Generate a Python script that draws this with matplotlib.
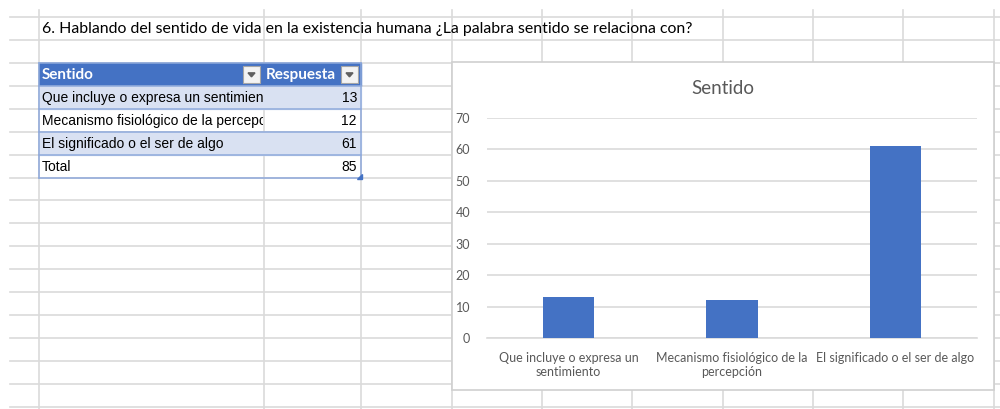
import matplotlib
matplotlib.use("Agg")
import matplotlib.pyplot as plt
from matplotlib.patches import Rectangle, Polygon

# data
question = "6. Hablando del sentido de vida en la existencia humana ¿La palabra sentido se relaciona con?"
col_headers = ["Sentido", "Respuesta"]
categories = ["Que incluye o expresa un sentimiento",
              "Mecanismo fisiológico de la percepción",
              "El significado o el ser de algo"]
respuestas = [13, 12, 61]
total_label = "Total"
total_value = 85  # as shown in the sheet
axis_labels = ["Que incluye o expresa un\nsentimiento",
               "Mecanismo fisiológico de la\npercepción",
               "El significado o el ser de algo"]
chart_title = "Sentido"
y_ticks = [0, 10, 20, 30, 40, 50, 60, 70]

W, H = 1000, 409
GRID = "#DADADA"
BLUE = "#4472C4"
LIGHT = "#D9E1F2"
EDGE = "#8EA9DB"
GREY_TXT = "#595959"

fig = plt.figure(figsize=(W / 100, H / 100), dpi=100)
bg = fig.add_axes([0, 0, 1, 1])
bg.set_xlim(0, W)
bg.set_ylim(H, 0)
bg.axis("off")

# spreadsheet cell grid
col_x = [38.5, 263.5, 361, 452, 542, 632, 723, 813, 903, 994]
row_y = [17 + 22.93 * i for i in range(18)]
for x in col_x:
    bg.plot([x, x], [10, H], color=GRID, lw=1.2, zorder=1)
for y in row_y:
    bg.plot([10, W], [y, y], color=GRID, lw=1.2, zorder=1)

bg.text(42, 29, question, fontsize=11.4, family="Lato", va="center",
        color="#000000", zorder=3)

# table ------------------------------------------------------------
tl, tm, tr = 39, 263.5, 361
top = row_y[2]
rh = row_y[3] - row_y[2]
bg.add_patch(Rectangle((tl, top), tr - tl, rh, color=BLUE, zorder=2))
bg.text(42, top + rh / 2 + 1, col_headers[0], color="white", fontsize=11,
        family="Lato", weight="bold", va="center", zorder=3)
bg.text(266, top + rh / 2 + 1, col_headers[1], color="white", fontsize=11,
        family="Lato", weight="bold", va="center", zorder=3)
for bx in (243, 341):
    bg.add_patch(Rectangle((bx, top + 3), 17, 17, facecolor="#F3F3F3",
                           edgecolor="#A6A6A6", lw=0.8, zorder=3))
    bg.add_patch(Polygon([(bx + 5, top + 10), (bx + 12, top + 10),
                          (bx + 8.5, top + 14)], color="#606060", zorder=4))

rows = list(zip(categories, respuestas)) + [(total_label, total_value)]
for i, (name, val) in enumerate(rows):
    y0 = top + rh * (i + 1)
    if i % 2 == 0 and i < 3:
        bg.add_patch(Rectangle((tl, y0), tr - tl, rh, color=LIGHT, zorder=2))
    t = bg.text(42, y0 + rh / 2 + 1, name, fontsize=10, family="Liberation Sans",
                va="center", color="black", zorder=3, clip_on=True)
    t.set_clip_path(Rectangle((tl, y0), tm - tl - 1, rh, transform=bg.transData))
    bg.text(357, y0 + rh / 2 + 1, str(val), fontsize=10, family="Liberation Sans",
            va="center", ha="right", color="black", zorder=3)
for i in range(2, 8):
    bg.plot([tl, tr], [row_y[i], row_y[i]], color=EDGE, lw=1.1, zorder=3)
for x in (tl, tr):
    bg.plot([x, x], [row_y[2], row_y[7]], color=EDGE, lw=1.1, zorder=3)
bg.add_patch(Polygon([(tr + 1, row_y[7] - 4), (tr + 1, row_y[7] + 1),
                      (tr - 4, row_y[7] + 1)], color=BLUE, zorder=4))

# chart frame --------------------------------------------------------
cx0, cy0, cx1, cy1 = 452, 62, 994, 390
bg.add_patch(Rectangle((cx0, cy0), cx1 - cx0, cy1 - cy0, facecolor="white",
                       edgecolor="#D0D0D0", lw=1.2, zorder=5))
bg.text((cx0 + cx1) / 2, 88, chart_title, fontsize=13.5, family="Lato",
        color=GREY_TXT, ha="center", va="center", zorder=6)

px0, px1, py_top, py_bot = 487, 977, 118, 338
ax = fig.add_axes([px0 / W, (H - py_bot) / H, (px1 - px0) / W, (py_bot - py_top) / H])
ax.set_zorder(10)
ax.patch.set_alpha(0)
xs = range(len(respuestas))
ax.bar(xs, respuestas, width=0.315, color=BLUE, zorder=3)
ax.set_xlim(-0.5, len(respuestas) - 0.5)
ax.set_ylim(0, 70)
ax.set_yticks(y_ticks)
ax.yaxis.grid(True, color=GRID, lw=1.2)
ax.set_axisbelow(True)
for s in ["left", "right", "top"]:
    ax.spines[s].set_visible(False)
ax.spines["bottom"].set_color(GRID)
ax.spines["bottom"].set_linewidth(1.2)
ax.tick_params(length=0, colors=GREY_TXT, labelsize=9)
ax.tick_params(axis="y", pad=12)
ax.tick_params(axis="x", pad=10)
ax.set_xticks(list(xs))
ax.set_xticklabels(axis_labels, family="Lato", fontsize=9, color=GREY_TXT,
                   linespacing=1.25)
for lab in ax.get_yticklabels():
    lab.set_family("Lato")

fig.savefig("out.png", dpi=100)
